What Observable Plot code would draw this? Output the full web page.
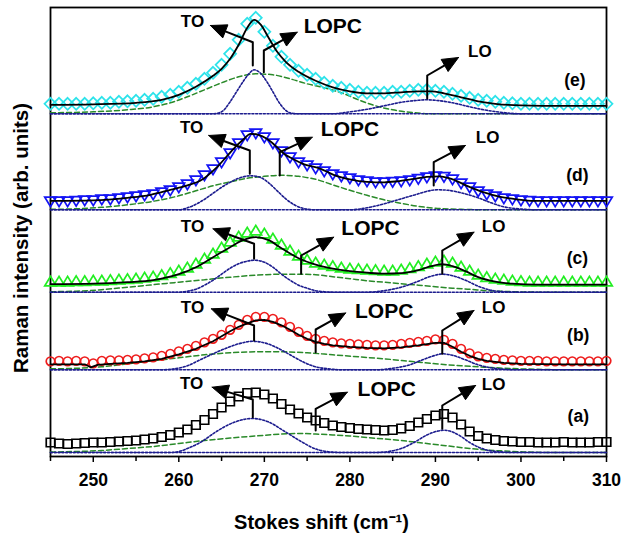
<!DOCTYPE html>
<html><head><meta charset="utf-8">
<script src="https://cdn.jsdelivr.net/npm/d3@7"></script>
<script src="https://cdn.jsdelivr.net/npm/@observablehq/plot@0.6"></script>
<style>
body{margin:0;background:#fff;}
svg g[aria-label="x-axis tick"] path{stroke-width:1.5;}
svg g[aria-label="x-axis tick label"]{font-weight:bold;}
</style>
</head><body><div id="chart"></div>
<script>
// Raman shift positions of measured points (cm^-1)
const shift = [245,246,247,248,249,250,251,252,253,254,255,256,257,258,259,260,261,262,263,264,265,266,267,268,269,270,271,272,273,274,275,276,277,278,279,280,281,282,283,284,285,286,287,288,289,290,291,292,293,294,295,296,297,298,299,300,301,302,303,304,305,306,307,308,309,310];
const panels = ["a","b","c","d","e"];
const panelLabels = ["(a)","(b)","(c)","(d)","(e)"];
const xTicks = [250,260,270,280,290,300,310];
const xMinorTicks = [245,255,265,275,285,295,305];

// measured intensities (arb. units above each trace's baseline)
const dataA = [10,9,8.5,9,9.5,10,10,10.5,11,11.5,12,13,14,15.5,17.5,20,23,27.5,32.5,38.5,45,51,56,59.5,60,58,54,48.5,43,39,35,32,29.5,27,25.5,24.5,23.5,23,22.5,22,22.5,24,26.5,30,33.5,37,38.5,35,28,21,16.5,14,12.5,11.5,11,10.5,10.5,10,10,10,10.5,10,10,10,10.5,10.5];
const dataB = [8.5,9,8.5,9,8.5,6.5,9,9.5,9.5,10,10.5,11.5,12.5,14,16,18.5,21,24,27.5,31,35,40,45,50,53,53,51,47.5,43,38,34,31,29,27.5,26.5,26,25.5,25,24.5,24.5,25,26,27,28,29,30.5,30,26,21,16.5,13.5,12,11,10,9.5,9,9,9,8.5,8.5,8.5,8.5,8.5,8.5,8.5,9];
const dataC = [10,10,10,10.5,10.5,11,11,11.5,12,12.5,13,14,15,16.5,18.5,21,24,28,33,38,44,50,55,59,61,58,53,47,41,36,32,29,27,25.5,24,23,22.5,22,21.5,21,21,22,23.5,25.5,28,30,31,29,25,21,17,14.5,13,12,11,10.5,10,10,10,10,10,10,10,10,10,10];
const dataD = [9,9,9,9.5,10,10,11,11,12,13,14,15,16,18,20,23,26,30,35,41,48,57,67,75,77,73,67,59,53,48,45,42,39,36,34,32,30,29,28,28,28.5,29,30,31.5,33,34,33.5,31,27,23,19,16,14,12,11,10,9.5,9,9,9,9,9,9,9,9,9];
const dataE = [10,10,10,10,10,10.5,11,11,12,12.5,13,14,15,17,19,22,26,30,35,41,49,60,74,90,96,82,68,57,49,43,39,35,31,28,26,24,22,21,21,21,22,22,23,24,24,23,22,20,18,16,14,13,12,11,10.5,10,10,10,10,10,10,10,10,10,10,10];

// fitted total curves [shift, intensity]
const fitB = [[245,5.5],[247,5.5],[249,5.5],[249.7,2.5],[250.5,5],[252,6],[254,7],[256,8.5],[258,11],[260,15.5],[262,21],[264,28.5],[266,38.5],[267,43],[268,46.5],[269,49.5],[270,50],[271,48],[272,44.5],[273,40],[274,35],[275,31],[276,28],[277,26],[278,24.5],[280,23],[282,22],[284,21.5],[286,22.5],[288,24.5],[290,27],[291,27],[292,23],[293,18],[294,14],[295,11],[296,9],[297,8],[298,7],[300,6],[305,5.5],[310,5.5]];
const fitC = [[245,8],[250,8.5],[254,10],[257,12],[260,18],[262,25],[264,35],[266,45],[267.5,52],[269,55],[270.5,52],[272,44],[274,34],[276,27.5],[278,23.5],[280,21],[282,19.5],[284,18.5],[286,19],[288,22],[289.5,26],[290.8,28],[292,26],[293.5,21],[295,15],[297,10.5],[299,8.5],[302,7.5],[310,7.5]];
const fitD = [[245,9],[250,9.5],[254,12],[256.7,15],[259,20],[261,24.5],[262.5,29],[264.5,43],[266.4,61],[267.5,70],[268.4,76],[269.3,75],[270.3,71],[271.3,64],[272.3,56],[273.3,51],[274.5,46],[276.6,41],[278.1,35],[280,30.5],[282,28],[284,27.5],[285.5,28.5],[287.5,31],[289,33],[290.5,33.5],[292,30.5],[293.7,24],[295.5,18],[297.6,13],[299.5,10.5],[301.5,9],[305,9],[310,9]];
const fitE = [[245,9],[250,9.5],[255,11],[258,14],[260,19],[262,27],[264,38],[265,45],[266,55],[267,69],[268,86],[268.8,94],[269.6,89],[270.5,76],[271.5,62],[272.5,52],[274,42],[276,33],[278,26.5],[280,22.5],[282,20.5],[284,20.5],[286,21.5],[288,22.5],[289.5,22.5],[291,20.5],[293,16.5],[295,12.5],[297,10],[300,8.5],[305,8],[310,8]];

// fitted components [shift, intensity]
const toA = [[245,0],[259,0],[260,1],[261,4],[262.5,10],[264.5,21.5],[266.4,30],[268.6,34],[270.5,30.5],[272.3,21.5],[274.2,11.5],[276,3.5],[277.5,0.8],[279,0],[310,0]];
const lopcA = [[245,0.5],[248,1],[251,2],[254,4],[257,6],[260,9],[263,12],[266,14.5],[269,16.5],[272,18.5],[274,19],[276,18.5],[278,17.5],[280,16.5],[282,15],[284,13.5],[286,12],[288,10],[290,8],[292,6],[294,4],[296,2.5],[298,1.5],[300,0.7],[303,0],[310,0]];
const loA = [[245,0],[283,0],[284.5,1],[286,4],[287.5,10],[289,17.5],[290.3,21.5],[291,22.3],[292,20.5],[293,16],[294,10],[295,5.5],[296,2.5],[297.5,0.7],[299,0],[310,0]];
const toB = [[245,0],[258,0],[259.5,1],[261,4],[262.5,10],[264,16],[265.5,21.5],[267,26],[268.6,28.5],[270,27],[271.5,22],[273,15],[274.5,8],[276,3],[277.5,1],[279,0],[310,0]];
const lopcB = [[245,1],[248,1.5],[251,3],[254,6],[257,9],[260,12],[263,15],[266,17],[269,18],[272,18],[275,17],[278,15],[281,13],[284,11],[287,8.5],[290,6],[293,4],[296,2.5],[299,1.2],[302,0.5],[305,0],[310,0]];
const loB = [[245,0],[283,0],[285,1.5],[287,5],[288.5,10],[290,14.5],[290.8,16],[292,14.5],[293.5,10],[295,5],[296.5,2],[298,0.5],[300,0],[310,0]];
const toC = [[245,0],[260,0],[261,1],[262,3],[263,7],[264,12],[265,18],[266,24],[267,28.5],[268,31],[268.8,32],[270,30],[271,25],[272,18],[273,12],[274,7],[275,4],[276,1.5],[277,0.5],[278,0],[310,0]];
const lopcC = [[245,0.5],[248,1],[251,2.5],[254,5],[257,7.5],[260,10],[263,12.5],[266,15],[269,17],[272,18],[274,18],[276,17.5],[278,15.5],[280,13.5],[282,11.5],[284,10],[286,8.5],[288,7],[290,5.5],[292,4],[294,3],[296,1.5],[298,0.8],[300,0.3],[303,0],[310,0]];
const loC = [[245,0],[282,0],[284,1.5],[286,5],[288,11],[289.5,16],[290.8,18],[292,16.5],[293.5,12],[295,6],[296.5,2],[298,0.5],[300,0],[310,0]];
const toD = [[245,0],[260,0],[261,2],[262,5.5],[263,10.5],[264,16.5],[265,22.5],[266,27.5],[267,31.5],[268.4,34],[269.5,32.5],[270.5,27],[271.5,19],[272.5,11],[273.5,5],[274.5,1.5],[276,0],[310,0]];
const lopcD = [[245,0.5],[248,1],[251,2.5],[254,5],[257,8.5],[260,14],[262,19],[264,24],[266,28],[268,31.5],[270,33.5],[272,34.5],[274,33.5],[276,30.5],[278,25],[280,19.5],[282,14.5],[284,10],[286,6.5],[288,3.5],[290,1.5],[293,0.5],[296,0],[310,0]];
const loD = [[245,0],[280,0],[282,2],[284,6],[286,11],[288,16],[289,18.5],[290.2,20],[291.5,19.5],[293,17],[295,12],[296.5,7],[298,3],[300,0.8],[302,0],[310,0]];
const toE = [[245,0],[264,0],[265,2],[266,12],[266.6,20],[267.5,32],[268.2,40],[268.8,44],[269.5,41],[270.3,32],[271,22],[271.6,13],[272.3,5],[273,1],[274,0],[310,0]];
const lopcE = [[245,1],[250,2],[254,4],[257,7],[259,11],[261,17],[263,24],[265,31],[267,37],[269,40],[271,39],[273,35],[275,30],[277,26],[279,21],[281,14],[283,8],[285,4],[287,1.5],[290,0],[310,0]];
const loE = [[245,0],[278,0],[280,2],[282,4.5],[284,8],[286,11.5],[288,13.5],[289,14],[290,13.5],[292,11],[294,7],[296,3.5],[298,1.2],[300,0],[310,0]];

// vertical stacking offset of each trace
const offsets = {a:4, b:86.7, c:164.3, d:246.7, e:342.7};

// annotation arrows: x, y start, y bend, tip x, tip y (plot units)
const arrowTO = [[268.65,39.3,57,263.9,69.3],[268.8,116,131,263.8,147.7],[268.8,197.7,212.7,264.0,227.7],[268.3,282.7,306,263.5,321],[268.65,391,414.3,263.7,431]];
const arrowLOPC = [[276.0,26,47.7,279.7,64.3],[276.0,104.3,127,279.5,143.5],[274.3,182.7,201,278.1,219.3],[271.8,281,304.3,275.6,319.3],[269.94,384.3,406,273.84,424.3]];
const arrowLO = [[290.8,27.7,51,294.7,71],[290.8,102.7,126,294.5,146],[290.8,182.7,206,294.5,224.3],[289.8,271,294.3,293.5,311],[289.04,358,381,292.7,399]];
const labelTO = [[261.5,73],[261.6,148.5],[261.6,230],[261.5,329.3],[261.6,435]];
const labelLOPC = [[280.9,67],[280.6,145],[279.0,228],[276.6,327],[274.6,430]];
const labelLO = [[296.8,72],[296.8,149],[296.8,229.5],[296.1,319.3],[295.2,405]];
const labelPanel = [[306.7,40],[306.7,121],[306.6,197.7],[306.6,281],[306.3,376]];

// ---- build tables ----
const measured = {a:dataA, b:dataB, c:dataC, d:dataD, e:dataE};
const fits = {b:fitB, c:fitC, d:fitD, e:fitE};
const comps = {
  a:{TO:toA, LOPC:lopcA, LO:loA}, b:{TO:toB, LOPC:lopcB, LO:loB},
  c:{TO:toC, LOPC:lopcC, LO:loC}, d:{TO:toD, LOPC:lopcD, LO:loD},
  e:{TO:toE, LOPC:lopcE, LO:loE}
};
const pts = p => shift.map((x,i)=>({panel:p, x, y: offsets[p] + measured[p][i]}));
const fitRows = Object.entries(fits).flatMap(([p,arr]) => arr.map(([x,v])=>({panel:p, x, y: offsets[p]+v})));
const fitSmooth = fitRows.filter(d => d.panel !== "b");
const fitJagged = fitRows.filter(d => d.panel === "b");
const compRows = kind => panels.flatMap(p => comps[p][kind].map(([x,v])=>({id:p+kind, x, y: offsets[p]+v})));

const W = 621, H = 537, mL = 50, mR = 15, mT = 7, mB = 81;
const kx = (W - mL - mR) / 65, ky = (H - mT - mB) / 449;
const shafts = [], heads = [];
[arrowTO, arrowLOPC, arrowLO].forEach((list, k) => list.forEach((a, i) => {
  const [x, y0, y1, tx, ty] = a; const id = k + "-" + i;
  const dx = (tx - x) * kx, dy = (ty - y1) * ky;
  const len = Math.hypot(dx, dy), ux = dx/len, uy = dy/len;
  const L = 16, Wd = 7;
  const bx = tx*kx - ux*L, by = ty*ky - uy*L;
  const nx = -uy, ny = ux;
  shafts.push({id, x, y:y0}, {id, x, y:y1}, {id, x:bx/kx, y:by/ky});
  heads.push({id, x:tx, y:ty}, {id, x:(bx+nx*Wd)/kx, y:(by+ny*Wd)/ky}, {id, x:(bx-nx*Wd)/kx, y:(by-ny*Wd)/ky}, {id, x:tx, y:ty});
}));

// ---- marker symbols ----
const rad = s => Math.sqrt(s/Math.PI);
const symDiamond = {draw(c,s){const r=rad(s); c.moveTo(0,-r); c.lineTo(r,0); c.lineTo(0,r); c.lineTo(-r,0); c.closePath();}};
const symTriDown = {draw(c,s){const r=rad(s); c.moveTo(-r,-0.65*r); c.lineTo(r,-0.65*r); c.lineTo(0,r); c.closePath();}};
const symTriUp = {draw(c,s){const r=rad(s); c.moveTo(-r,0.65*r); c.lineTo(r,0.65*r); c.lineTo(0,-r); c.closePath();}};
const symSquare = {draw(c,s){const r=rad(s)*0.85; c.rect(-r,-r,2*r,2*r);}};
const symCircle = {draw(c,s){const r=rad(s); c.moveTo(r,0); c.arc(0,0,r,0,2*Math.PI);}};

const styleOf = {
  a:{stroke:"#000000", symbol:symSquare, r:5},
  b:{stroke:"#ee1c1c", symbol:symCircle, r:4.3},
  c:{stroke:"#22ee22", symbol:symTriUp, r:5.8},
  d:{stroke:"#1414f5", symbol:symTriDown, r:5.8},
  e:{stroke:"#2de3ea", symbol:symDiamond, r:6}
};

const font = "'Liberation Sans', Arial, sans-serif";
const marks = [
  Plot.frame({stroke:"black", strokeWidth:1.8}),
  Plot.ruleX(xMinorTicks, {y1:0, y2:-5, stroke:"black", strokeWidth:1.5}),
  Plot.line(compRows("LOPC"), {x:"x", y:"y", z:"id", stroke:"#2a8a2a", strokeWidth:1.5, strokeDasharray:"5,3", curve:"monotone-x"}),
  Plot.line(compRows("TO"), {x:"x", y:"y", z:"id", stroke:"#1c1c8e", strokeWidth:1.6, strokeDasharray:"2,1.8", curve:"monotone-x"}),
  Plot.line(compRows("LO"), {x:"x", y:"y", z:"id", stroke:"#1c1c8e", strokeWidth:1.6, strokeDasharray:"2,1.8", curve:"monotone-x"}),
  ...panels.map(p => Plot.dot(pts(p), {x:"x", y:"y", symbol:styleOf[p].symbol, r:styleOf[p].r, stroke:styleOf[p].stroke, strokeWidth:1.7, fill:"none"})),
  Plot.line(fitSmooth, {x:"x", y:"y", z:"panel", stroke:"black", strokeWidth:1.8, curve:"monotone-x"}),
  Plot.line(fitJagged, {x:"x", y:"y", z:"panel", stroke:"black", strokeWidth:1.8, curve:"linear"}),
  Plot.line(shafts, {x:"x", y:"y", z:"id", stroke:"black", strokeWidth:2}),
  Plot.line(heads, {x:"x", y:"y", z:"id", stroke:"black", strokeWidth:1, fill:"black"}),
  Plot.text(labelTO, {x:d=>d[0], y:d=>d[1], text:()=>"TO", fontSize:17, fontWeight:"bold", fill:"black"}),
  Plot.text(labelLO, {x:d=>d[0], y:d=>d[1], text:()=>"LO", fontSize:17, fontWeight:"bold", fill:"black"}),
  Plot.text(labelLOPC, {x:d=>d[0], y:d=>d[1], text:()=>"LOPC", fontSize:21, fontWeight:"bold", textAnchor:"start", fill:"black"}),
  Plot.text(labelPanel, {x:d=>d[0], y:d=>d[1], text:(d,i)=>panelLabels[i], fontSize:17.5, fontWeight:"bold", fill:"black"}),
  Plot.text(["Stokes shift (cm\u207B\u00B9)"], {frameAnchor:"bottom", lineAnchor:"middle", dy:66, dx:-7, text:d=>d, fontSize:20, fontWeight:"bold", fill:"black"}),
  Plot.text(["Raman intensity (arb. units)"], {frameAnchor:"left", textAnchor:"middle", lineAnchor:"middle", dx:-29, dy:6, rotate:-90, text:d=>d, fontSize:20.5, fontWeight:"bold", fill:"black"})
];

const chart = Plot.plot({
  width: W, height: H,
  marginLeft: mL, marginRight: mR, marginTop: mT, marginBottom: mB,
  x: {domain:[245,310], ticks:xTicks, tickSize:6, tickPadding:11, tickFormat:d=>String(d), label:null},
  y: {domain:[0,449], axis:null},
  style: {fontFamily: font, fontSize:"17.5px", background:"white", color:"black", overflow:"visible"},
  marks
});
document.getElementById("chart").appendChild(chart);
</script>
</body></html>
